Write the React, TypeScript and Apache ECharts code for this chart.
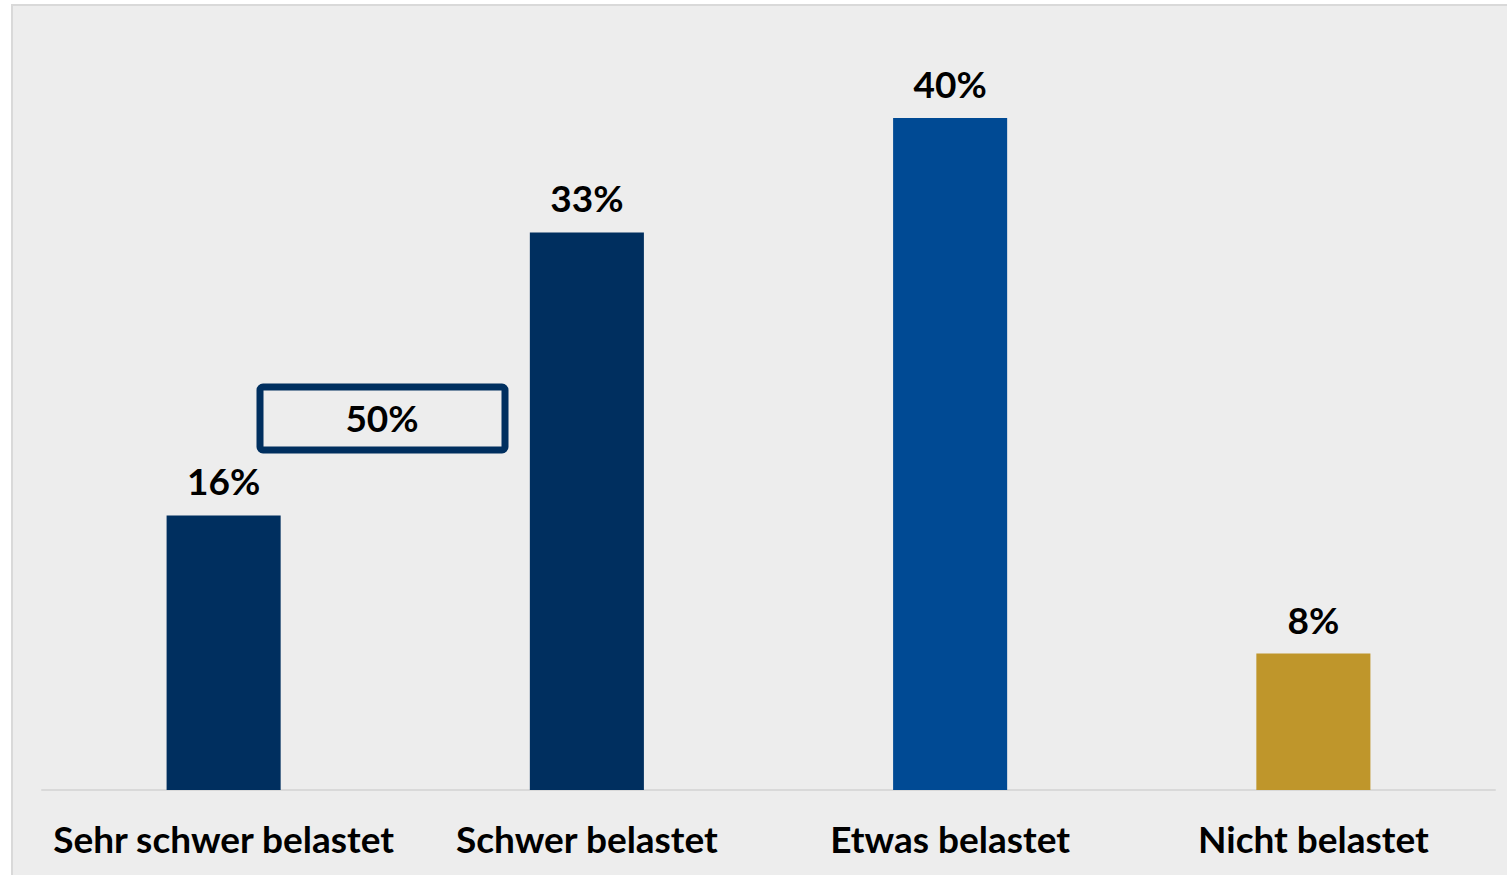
import React, { useEffect, useRef } from "react";
import * as echarts from "echarts";

const categories = ["Sehr schwer belastet", "Schwer belastet", "Etwas belastet", "Nicht belastet"];
const values = [16.3, 33.1, 39.9, 8.1];
const barColors = ["#002F5F", "#002F5F", "#004A94", "#BF962B"];
const boxLabel = "50%";

const FONT = "Lato";

export default function App() {
  const ref = useRef<HTMLDivElement>(null);
  useEffect(() => {
    if (!ref.current) return;
    const chart = echarts.init(ref.current, null, { renderer: "svg" });
    chart.setOption({
      animation: false,
      backgroundColor: "#ffffff",
      grid: { left: 42, right: 12, top: 32, bottom: 85 },
      xAxis: {
        type: "category",
        data: categories,
        axisLine: { show: true, lineStyle: { color: "#D9D9D9", width: 2 } },
        axisTick: { show: false },
        axisLabel: {
          color: "#000000",
          fontFamily: FONT,
          fontWeight: "bold",
          fontSize: 37,
          margin: 30,
          interval: 0,
        },
      },
      yAxis: {
        type: "value",
        min: 0,
        max: 45,
        show: false,
        splitLine: { show: false },
      },
      graphic: [
        {
          type: "rect",
          z: -10,
          shape: { x: 12, y: 5, width: 1520, height: 900 },
          style: { fill: "#EDEDED", stroke: "#D9D9D9", lineWidth: 2 },
        },
        {
          type: "rect",
          z: 10,
          shape: { x: 260, y: 387, width: 245, height: 63, r: 3 },
          style: { fill: "#EDEDED", stroke: "#002F5F", lineWidth: 7 },
        },
        {
          type: "text",
          z: 11,
          x: 382,
          y: 417,
          style: {
            text: boxLabel,
            fill: "#000000",
            font: `bold 37px ${FONT}`,
            align: "center",
            verticalAlign: "middle",
          },
        },
      ],
      series: [
        {
          type: "bar",
          barWidth: "31.4%",
          data: values.map((v, i) => ({ value: v, itemStyle: { color: barColors[i] } })),
          label: {
            show: true,
            position: "top",
            distance: 16,
            color: "#000000",
            fontFamily: FONT,
            fontWeight: "bold",
            fontSize: 37,
            formatter: (p: any) => `${Math.round(p.value)}%`,
          },
        },
      ],
    });
    return () => chart.dispose();
  }, []);
  return (
    <div
      ref={ref}
      style={{ position: "fixed", left: 0, top: 0, width: 1507, height: 875 }}
    />
  );
}
